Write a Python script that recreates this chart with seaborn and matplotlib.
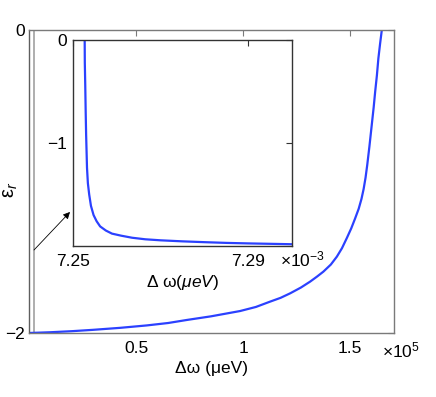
import matplotlib
matplotlib.use("Agg")
import matplotlib.pyplot as plt
import seaborn as sns
import pandas as pd

# ---- data (main axis x in units of 1e5 ueV, inset x in units of 1e-3 ueV) ----
main_x = [0.0, 0.1, 0.2, 0.3, 0.425, 0.55, 0.65, 0.737, 0.85, 0.986, 1.06,
          1.126, 1.175, 1.22, 1.27, 1.313, 1.345, 1.375, 1.41, 1.438, 1.462,
          1.485, 1.505, 1.523, 1.54, 1.553, 1.563, 1.572, 1.58, 1.59, 1.601,
          1.61, 1.617, 1.625, 1.632, 1.640, 1.648]
main_y = [-2.0, -1.995, -1.988, -1.979, -1.966, -1.950, -1.934, -1.914, -1.89,
          -1.855, -1.828, -1.793, -1.768, -1.738, -1.70, -1.661, -1.628, -1.595,
          -1.548, -1.496, -1.440, -1.372, -1.31, -1.245, -1.18, -1.115, -1.05,
          -0.975, -0.89, -0.77, -0.627, -0.51, -0.407, -0.30, -0.187, -0.09, 0.0]

inset_x = [7.25267, 7.2527, 7.2528, 7.2529, 7.2530, 7.2532, 7.2534, 7.2537,
           7.2541, 7.2547, 7.2554, 7.2562, 7.2575, 7.2589, 7.2610, 7.2635,
           7.2665, 7.2700, 7.2750, 7.2800, 7.2850, 7.2900, 7.2950, 7.3000]
inset_y = [0.0, -0.22, -0.44, -0.70, -0.92, -1.24, -1.39, -1.50, -1.61, -1.70,
           -1.76, -1.81, -1.85, -1.88, -1.90, -1.92, -1.935, -1.945, -1.955,
           -1.963, -1.970, -1.975, -1.979, -1.983]

vline_x = [0.0234, 0.0234]
vline_y = [-2.0, 0.0]

main_xticks = [0.5, 1.0, 1.5]
main_xticklabels = ["0.5", "1", "1.5"]
main_yticks = [-2, 0]
main_yticklabels = ["\u22122", "0"]
inset_xticks = [7.25, 7.29]
inset_xticklabels = ["7.25", "7.29"]
inset_yticks = [-1, 0]
inset_yticklabels = ["\u22121", "0"]

arrow_tail = (0.0234, -1.452)
arrow_head = (0.1916, -1.201)

main_df = pd.DataFrame({"x": main_x, "y": main_y})
inset_df = pd.DataFrame({"x": inset_x, "y": inset_y})
vline_df = pd.DataFrame({"x": vline_x, "y": vline_y})

sns.set_theme(style="white")
plt.rcParams["font.family"] = ["Liberation Sans", "DejaVu Sans"]
plt.rcParams["mathtext.fontset"] = "custom"
plt.rcParams["mathtext.rm"] = "Liberation Sans"
plt.rcParams["mathtext.it"] = "Liberation Sans:italic"
plt.rcParams["mathtext.bf"] = "Liberation Sans:bold"

FS = 12.5
BLUE = "#2b41ff"

fig = plt.figure(figsize=(4.36, 3.97), dpi=100)
fig.patch.set_facecolor("white")

# ---- main axes ----
ax = fig.add_axes([0.0665, 0.1612, 0.8372, 0.7632])
ax.set_facecolor("white")
sns.lineplot(data=vline_df, x="x", y="y", ax=ax, color="#a8a8a8", lw=1.3,
             sort=False, estimator=None)
sns.lineplot(data=main_df, x="x", y="y", ax=ax, color=BLUE, lw=1.6,
             sort=False, estimator=None)
ax.set_xlim(0, 1.705)
ax.set_ylim(-2, 0)
ax.set_xticks(main_xticks)
ax.set_xticklabels(main_xticklabels)
ax.set_yticks(main_yticks)
ax.set_yticklabels(main_yticklabels)
for name, s in ax.spines.items():
    s.set_color("#5e5e5e" if name == "left" else "#7a7a7a")
    s.set_linewidth(1.0)
    s.set_visible(True)
ax.tick_params(direction="in", top=True, right=True, length=4, width=0.8,
               color="#7a7a7a", labelsize=FS, labelcolor="black")
ax.tick_params(axis="x", pad=6)
ax.tick_params(axis="y", pad=3)
ax.set_xlabel("\u0394\u03c9 (\u03bceV)", fontsize=FS, labelpad=3, color="black")
ax.set_ylabel("")
fig.text(10 / 436, 1 - 190 / 397, "\u03b5$_r$", fontsize=14.5, rotation=90,
         ha="center", va="center", color="black")
ax.text(0.967, -0.058, "\u00d710$^{5}$", transform=ax.transAxes, fontsize=FS,
        ha="left", va="center", color="black")
ax.annotate("", xy=arrow_head, xytext=arrow_tail,
            arrowprops=dict(arrowstyle="-|>", color="black", lw=0.6,
                            mutation_scale=10, shrinkA=0, shrinkB=0))

# ---- inset axes ----
ins = fig.add_axes([0.1674, 0.3804, 0.5023, 0.5188])
ins.set_facecolor("white")
sns.lineplot(data=inset_df, x="x", y="y", ax=ins, color=BLUE, lw=1.6,
             sort=False, estimator=None)
ins.set_xlim(7.25, 7.30)
ins.set_ylim(-2, 0)
ins.set_xticks(inset_xticks)
ins.set_xticklabels(inset_xticklabels)
ins.set_yticks(inset_yticks)
ins.set_yticklabels(inset_yticklabels)
for s in ins.spines.values():
    s.set_color("#333333")
    s.set_linewidth(1.0)
    s.set_visible(True)
ins.tick_params(direction="in", top=True, right=True, length=4, width=0.8,
                color="#333333", labelsize=FS, labelcolor="black")
ins.tick_params(axis="x", pad=6)
ins.tick_params(axis="y", pad=4)
ins.set_xlabel("\u0394 \u03c9$\\mathit{(\\mu eV)}$", fontsize=FS, labelpad=3,
               color="black")
ins.set_ylabel("")
ins.text(0.945, -0.063, "\u00d710$^{\u22123}$", transform=ins.transAxes,
         fontsize=FS, ha="left", va="center", color="black")

fig.savefig("out.png", dpi=100, facecolor="white")
